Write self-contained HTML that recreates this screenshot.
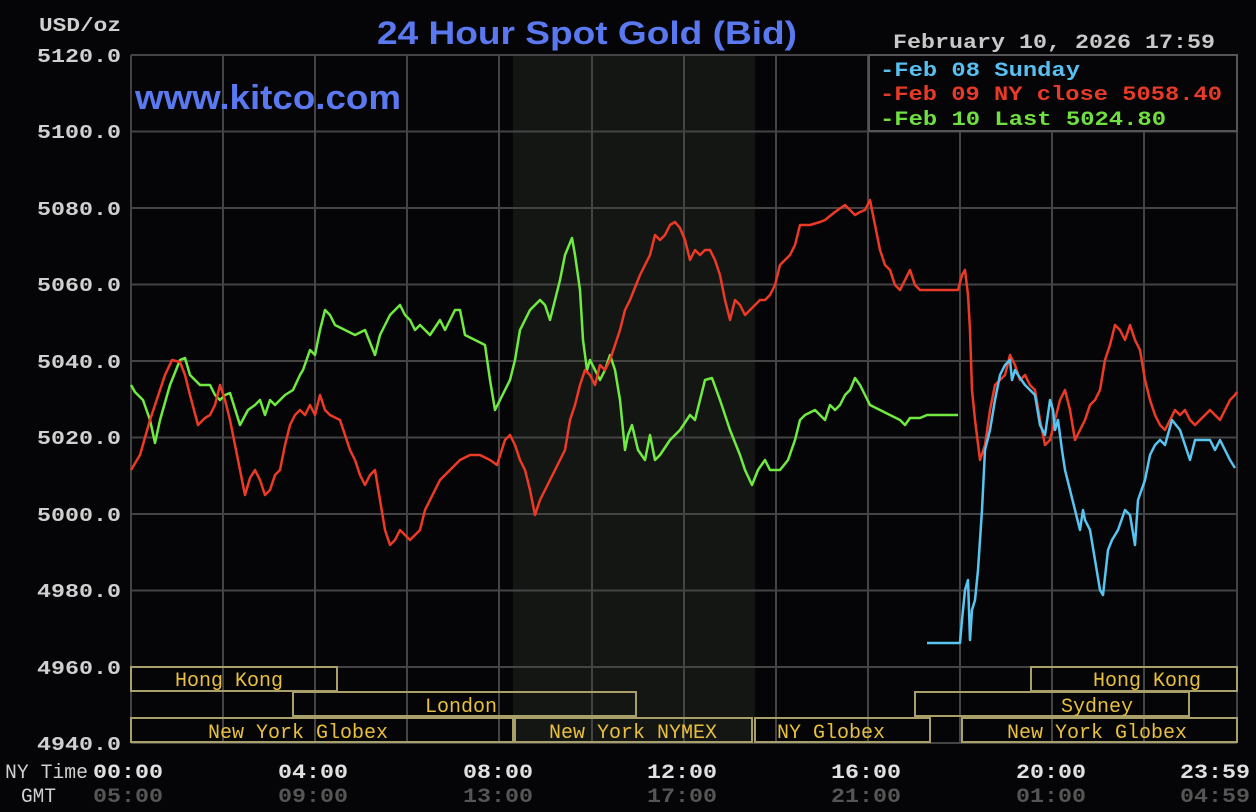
<!DOCTYPE html>
<html><head><meta charset="utf-8"><style>
body{margin:0;background:#050507;width:1256px;height:812px;overflow:hidden}
svg{display:block}
</style></head><body>
<svg width="1256" height="812" xmlns="http://www.w3.org/2000/svg" font-family="'Liberation Mono', monospace" font-weight="bold">
<rect width="1256" height="812" fill="#050507"/>
<rect x="513" y="55" width="242" height="688" fill="#141614"/>
<g stroke="#444" stroke-width="2">
<line x1="131" y1="55" x2="1237" y2="55"/><line x1="131" y1="131.5" x2="1237" y2="131.5"/><line x1="131" y1="208" x2="1237" y2="208"/><line x1="131" y1="284.5" x2="1237" y2="284.5"/><line x1="131" y1="361" x2="1237" y2="361"/><line x1="131" y1="437.5" x2="1237" y2="437.5"/><line x1="131" y1="514" x2="1237" y2="514"/><line x1="131" y1="590.5" x2="1237" y2="590.5"/><line x1="131" y1="667" x2="1237" y2="667"/><line x1="131" y1="743" x2="1237" y2="743"/>
<line x1="131" y1="55" x2="131" y2="743"/><line x1="223" y1="55" x2="223" y2="743"/><line x1="315" y1="55" x2="315" y2="743"/><line x1="407" y1="55" x2="407" y2="743"/><line x1="499" y1="55" x2="499" y2="743"/><line x1="592" y1="55" x2="592" y2="743"/><line x1="684" y1="55" x2="684" y2="743"/><line x1="776" y1="55" x2="776" y2="743"/><line x1="868" y1="55" x2="868" y2="743"/><line x1="960" y1="55" x2="960" y2="743"/><line x1="1052" y1="55" x2="1052" y2="743"/><line x1="1144" y1="55" x2="1144" y2="743"/><line x1="1237" y1="55" x2="1237" y2="743"/>
</g>
<g font-size="19" fill="#d0d0d0" lengthAdjust="spacingAndGlyphs">
<text x="39" y="31" textLength="82" lengthAdjust="spacingAndGlyphs">USD/oz</text>
<text x="37" y="62" textLength="84" lengthAdjust="spacingAndGlyphs">5120.0</text><text x="37" y="138" textLength="84" lengthAdjust="spacingAndGlyphs">5100.0</text><text x="37" y="215" textLength="84" lengthAdjust="spacingAndGlyphs">5080.0</text><text x="37" y="291" textLength="84" lengthAdjust="spacingAndGlyphs">5060.0</text><text x="37" y="368" textLength="84" lengthAdjust="spacingAndGlyphs">5040.0</text><text x="37" y="444" textLength="84" lengthAdjust="spacingAndGlyphs">5020.0</text><text x="37" y="521" textLength="84" lengthAdjust="spacingAndGlyphs">5000.0</text><text x="37" y="597" textLength="84" lengthAdjust="spacingAndGlyphs">4980.0</text><text x="37" y="674" textLength="84" lengthAdjust="spacingAndGlyphs">4960.0</text><text x="37" y="750" textLength="84" lengthAdjust="spacingAndGlyphs">4940.0</text>
</g>
<text x="377" y="44" font-family="'Liberation Sans', sans-serif" font-weight="bold" font-size="32" fill="#5a78f0" textLength="420" lengthAdjust="spacingAndGlyphs">24 Hour Spot Gold (Bid)</text>
<text x="135" y="109" font-family="'Liberation Sans', sans-serif" font-size="34" fill="#5a78f0" textLength="266" lengthAdjust="spacingAndGlyphs">www.kitco.com</text>
<text x="893" y="48" font-size="20" fill="#c8c8c8" textLength="322" lengthAdjust="spacingAndGlyphs">February 10, 2026 17:59</text>
<rect x="869" y="55" width="368" height="76" fill="#050507" stroke="#555" stroke-width="2"/>
<g font-size="20">
<text x="880" y="76" fill="#58c0f0" textLength="200" lengthAdjust="spacingAndGlyphs">-Feb 08 Sunday</text>
<text x="880" y="100" fill="#e83a28" textLength="342" lengthAdjust="spacingAndGlyphs">-Feb 09 NY close 5058.40</text>
<text x="880" y="125" fill="#70e040" textLength="286" lengthAdjust="spacingAndGlyphs">-Feb 10 Last 5024.80</text>
</g>
<g fill="none" stroke-width="2.5" stroke-linejoin="round">
<polyline stroke="#70ea40" points="131,385 135,392 143,400 150,420 155,443 160,420 170,385 180,360 185,358 190,375 200,385 210,385 215,395 220,400 225,395 230,393 240,425 248,410 255,405 260,400 265,415 270,400 275,405 285,395 293,390 300,375 303,370 310,350 315,355 320,330 325,310 330,315 335,325 345,330 355,335 365,330 375,355 380,335 390,315 400,305 405,315 410,320 415,330 420,325 430,335 440,320 445,330 455,310 460,310 465,335 475,340 485,345 490,380 495,410 500,400 510,380 515,360 520,330 525,320 530,310 540,300 545,305 550,320 555,300 560,280 565,255 572,238 575,255 580,290 583,340 587,370 590,360 595,370 600,380 605,370 610,355 615,370 620,400 625,450 628,435 632,425 638,450 645,460 650,435 655,460 660,455 670,440 680,430 690,415 695,420 705,380 712,378 720,400 730,430 740,455 745,470 752,485 758,470 765,460 770,470 780,470 788,460 795,440 800,420 805,415 815,410 825,420 830,405 835,410 840,405 845,395 850,390 855,378 860,385 865,395 870,405 880,410 890,415 900,420 905,425 910,418 920,418 927,415 958,415"/>
<polyline stroke="#ec3a26" points="131,470 140,455 150,420 160,390 165,375 172,360 180,362 185,375 190,395 198,425 205,418 210,415 215,405 220,385 225,400 230,420 240,470 245,495 250,478 255,470 260,480 265,495 270,490 275,475 280,470 285,445 290,425 295,415 300,410 305,415 310,405 315,415 320,395 325,410 330,415 340,420 345,435 350,450 355,460 360,475 365,485 370,475 375,470 380,500 385,530 390,545 395,540 400,530 405,535 410,540 420,530 425,510 435,490 440,480 450,470 460,460 470,455 480,455 490,460 497,465 505,440 510,435 515,445 520,460 525,470 530,490 535,515 540,500 545,490 555,470 565,450 570,420 575,405 580,385 585,370 590,375 595,385 600,365 605,370 610,360 615,345 620,330 625,310 630,300 640,275 650,255 655,235 660,240 665,235 670,225 675,222 680,228 685,240 690,260 695,250 700,255 705,250 710,250 715,260 720,275 725,300 730,320 735,300 740,305 745,315 750,310 755,305 760,300 765,300 770,295 775,285 780,265 790,255 795,245 800,225 810,225 820,222 825,220 835,212 845,205 850,210 855,215 860,212 865,210 870,200 875,225 880,250 885,265 890,270 895,285 900,290 905,280 910,270 915,285 920,290 958,290 962,275 965,270 968,295 970,330 972,390 975,420 980,460 985,445 990,410 995,385 1000,380 1005,375 1010,355 1015,365 1020,380 1025,375 1030,385 1035,390 1040,420 1045,445 1050,440 1055,420 1060,400 1065,390 1070,410 1075,440 1080,430 1085,420 1090,405 1095,400 1100,390 1105,360 1110,345 1115,325 1120,330 1125,340 1130,325 1135,340 1140,350 1145,380 1150,400 1155,415 1160,425 1165,430 1170,420 1175,410 1180,415 1185,410 1190,420 1195,425 1200,420 1205,415 1210,410 1220,420 1225,410 1230,400 1235,395 1237,392"/>
<polyline stroke="#58c4f0" points="927,643 960,643 962,620 965,590 968,580 970,640 972,610 975,600 978,570 980,540 982,510 985,450 990,430 995,400 1000,375 1005,365 1010,360 1012,380 1015,370 1018,375 1025,385 1030,390 1035,395 1040,425 1045,435 1050,400 1053,410 1055,430 1058,420 1062,450 1065,470 1080,530 1083,510 1085,520 1090,530 1095,560 1100,590 1103,595 1108,550 1112,540 1118,530 1125,510 1130,515 1135,545 1138,500 1145,480 1150,455 1155,445 1160,440 1165,445 1172,420 1180,430 1190,460 1195,440 1200,440 1210,440 1215,450 1220,440 1225,450 1230,460 1235,468"/>
</g>
<g fill="none" stroke="#a8a068" stroke-width="2">
<rect x="131" y="667" width="206" height="24"/>
<rect x="1031" y="667" width="206" height="24"/>
<rect x="293" y="692" width="343" height="24"/>
<rect x="915" y="692" width="274" height="24"/>
<rect x="131" y="718" width="382" height="24"/>
<rect x="515" y="718" width="237" height="24"/>
<rect x="755" y="718" width="175" height="24"/>
<rect x="962" y="718" width="275" height="24"/>
</g>
<g font-family="'Liberation Mono', monospace" font-weight="normal" font-size="20" fill="#e8c040">
<text x="175" y="686" textLength="108" lengthAdjust="spacingAndGlyphs">Hong Kong</text>
<text x="1093" y="686" textLength="108" lengthAdjust="spacingAndGlyphs">Hong Kong</text>
<text x="425" y="712" textLength="72" lengthAdjust="spacingAndGlyphs">London</text>
<text x="1061" y="712" textLength="72" lengthAdjust="spacingAndGlyphs">Sydney</text>
<text x="208" y="738" textLength="180" lengthAdjust="spacingAndGlyphs">New York Globex</text>
<text x="549" y="738" textLength="168" lengthAdjust="spacingAndGlyphs">New York NYMEX</text>
<text x="777" y="738" textLength="108" lengthAdjust="spacingAndGlyphs">NY Globex</text>
<text x="1007" y="738" textLength="180" lengthAdjust="spacingAndGlyphs">New York Globex</text>
</g>
<g font-size="20">
<text x="5" y="778" fill="#d0d0d0" font-weight="normal" textLength="83" lengthAdjust="spacingAndGlyphs">NY Time</text>
<text x="21" y="802" fill="#d0d0d0" font-weight="normal" textLength="35" lengthAdjust="spacingAndGlyphs">GMT</text>
<g fill="#e0e0e0"><text x="93" y="778" textLength="70" lengthAdjust="spacingAndGlyphs">00:00</text><text x="278" y="778" textLength="70" lengthAdjust="spacingAndGlyphs">04:00</text><text x="463" y="778" textLength="70" lengthAdjust="spacingAndGlyphs">08:00</text><text x="647" y="778" textLength="70" lengthAdjust="spacingAndGlyphs">12:00</text><text x="831" y="778" textLength="70" lengthAdjust="spacingAndGlyphs">16:00</text><text x="1016" y="778" textLength="70" lengthAdjust="spacingAndGlyphs">20:00</text><text x="1180" y="778" textLength="70" lengthAdjust="spacingAndGlyphs">23:59</text></g>
<g fill="#555"><text x="93" y="802" textLength="70" lengthAdjust="spacingAndGlyphs">05:00</text><text x="278" y="802" textLength="70" lengthAdjust="spacingAndGlyphs">09:00</text><text x="463" y="802" textLength="70" lengthAdjust="spacingAndGlyphs">13:00</text><text x="647" y="802" textLength="70" lengthAdjust="spacingAndGlyphs">17:00</text><text x="831" y="802" textLength="70" lengthAdjust="spacingAndGlyphs">21:00</text><text x="1016" y="802" textLength="70" lengthAdjust="spacingAndGlyphs">01:00</text><text x="1180" y="802" textLength="70" lengthAdjust="spacingAndGlyphs">04:59</text></g>
</g>
</svg>
</body></html>
